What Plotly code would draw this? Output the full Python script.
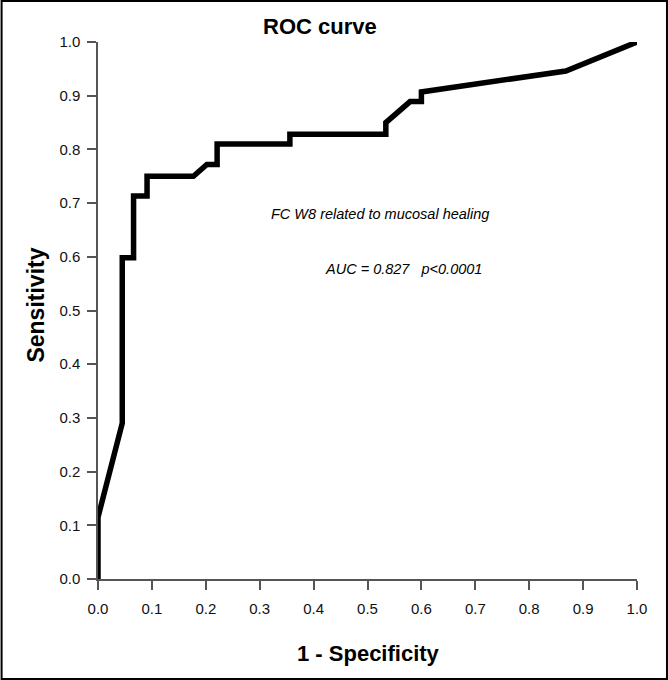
import plotly.graph_objects as go

# ROC curve points (1 - specificity, sensitivity)
fpr = [0.0, 0.0, 0.045, 0.045, 0.066, 0.066, 0.091, 0.091, 0.177, 0.202, 0.221, 0.221,
       0.356, 0.356, 0.534, 0.534, 0.579, 0.600, 0.600, 0.868, 1.0]
tpr = [0.0, 0.115, 0.29, 0.598, 0.598, 0.713, 0.713, 0.75, 0.75, 0.772, 0.772, 0.81,
       0.81, 0.828, 0.828, 0.85, 0.889, 0.889, 0.907, 0.946, 1.0]

tick_vals = [0.0, 0.1, 0.2, 0.3, 0.4, 0.5, 0.6, 0.7, 0.8, 0.9, 1.0]
tick_text = ["0.0", "0.1", "0.2", "0.3", "0.4", "0.5", "0.6", "0.7", "0.8", "0.9", "1.0"]

title_text = "ROC curve"
x_label = "1 - Specificity"
y_label = "Sensitivity"
note_line1 = "FC W8 related to mucosal healing"
note_line2 = "AUC = 0.827   p<0.0001"

W, H = 668, 680
ml, mr, mt, mb = 97.5, 31, 42, 101
pw, ph = W - ml - mr, H - mt - mb

FONT = "Liberation Sans, Arial"

fig = go.Figure()
fig.add_trace(go.Scatter(
    x=fpr, y=tpr, mode="lines",
    line=dict(color="black", width=5.5),
    cliponaxis=False, hoverinfo="skip", showlegend=False,
))

axis_common = dict(
    range=[0, 1], tickvals=tick_vals, ticktext=tick_text,
    showgrid=False, zeroline=False, showline=True,
    linecolor="#555555", linewidth=1.5,
    ticks="outside", ticklen=9, tickwidth=1.5, tickcolor="#555555",
    tickfont=dict(family=FONT, size=15, color="#111111"),
)

fig.update_layout(
    width=W, height=H,
    margin=dict(l=ml, r=mr, t=mt, b=mb, autoexpand=False),
    paper_bgcolor="white", plot_bgcolor="white",
    xaxis=dict(**axis_common, ticklabelstandoff=6),
    yaxis=dict(**axis_common, ticklabelstandoff=4),
    showlegend=False,
)

def px_x(p):
    return (p - ml) / pw

def px_y(p):
    return (H - mb - p) / ph

fig.add_annotation(text="<b>" + title_text + "</b>", xref="paper", yref="paper",
                   x=px_x(320), y=px_y(26), xanchor="center", yanchor="middle", showarrow=False,
                   font=dict(family=FONT, size=22, color="black"))
fig.add_annotation(text="<b>" + x_label + "</b>", xref="paper", yref="paper",
                   x=px_x(368), y=px_y(653), xanchor="center", yanchor="middle", showarrow=False,
                   font=dict(family=FONT, size=22, color="black"))
fig.add_annotation(text="<b>" + y_label + "</b>", xref="paper", yref="paper",
                   x=px_x(35), y=px_y(305), xanchor="center", yanchor="middle", showarrow=False,
                   textangle=-90,
                   font=dict(family=FONT, size=23, color="black"))
fig.add_annotation(text="<i>" + note_line1 + "</i>", x=0.523, y=0.68, xanchor="center",
                   yanchor="middle", showarrow=False,
                   font=dict(family=FONT, size=14.5, color="black"))
fig.add_annotation(text="<i>" + note_line2 + "</i>", x=0.567, y=0.577, xanchor="center",
                   yanchor="middle", showarrow=False,
                   font=dict(family=FONT, size=14.5, color="black"))

# outer frame
fig.add_shape(type="rect", xref="paper", yref="paper",
              x0=px_x(1), x1=px_x(W - 1), y0=px_y(H - 1), y1=px_y(1),
              line=dict(color="black", width=2))

fig.write_html("out.html", config={"displayModeBar": False},
               post_script="document.body.style.margin='0';")
